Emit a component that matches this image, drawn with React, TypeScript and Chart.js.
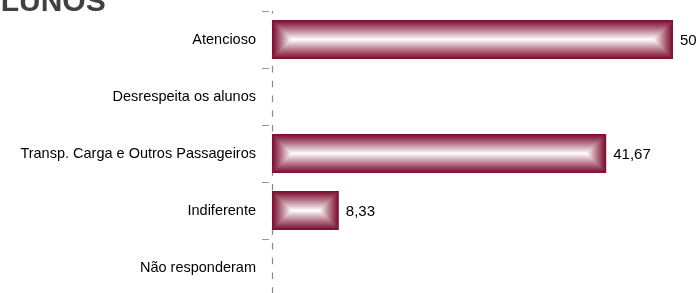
import React, { useEffect, useRef } from "react";
import { Chart, registerables } from "chart.js";

Chart.register(...registerables);

const categories = [
  "Atencioso",
  "Desrespeita os alunos",
  "Transp. Carga e Outros Passageiros",
  "Indiferente",
  "Não responderam",
];
const values = [50, 0, 41.67, 8.33, 0];
const titleText = "ALUNOS";

const DARK = [126, 16, 50];
const LIGHT = [255, 255, 255];

function mix(t: number) {
  const c = DARK.map((d, i) => Math.round(d + (LIGHT[i] - d) * t));
  return `rgb(${c[0]},${c[1]},${c[2]})`;
}

const framePlugin = {
  id: "frameGradient",
  beforeDatasetsDraw(chart: any) {
    const ctx = chart.ctx;
    const area = chart.chartArea;
    const x = Math.round(area.left) + 0.5;
    ctx.save();
    ctx.strokeStyle = "#888";
    ctx.lineWidth = 1.2;
    ctx.setLineDash([6.5, 8.25]);
    ctx.lineDashOffset = 4;
    ctx.beginPath();
    ctx.moveTo(x, area.top);
    ctx.lineTo(x, area.bottom);
    ctx.stroke();
    ctx.restore();
  },
  afterDatasetsDraw(chart: any) {
    const ctx = chart.ctx;
    const meta = chart.getDatasetMeta(0);
    ctx.save();
    meta.data.forEach((el: any, i: number) => {
      const v = values[i];
      if (!v) return;
      const { x, y, base, height } = el.getProps(["x", "y", "base", "height"], true);
      const left = Math.min(base, x);
      const right = Math.max(base, x);
      const top = y - height / 2;
      const w = right - left;
      const h = height;
      const steps = Math.max(2, Math.ceil(Math.min(w, h) / 2));
      for (let s = 0; s < steps; s++) {
        const t = s / (steps - 1);
        ctx.fillStyle = mix(Math.pow(t, 1.1));
        const ww = w - 2 * s;
        const hh = h - 2 * s;
        if (ww <= 0 || hh <= 0) break;
        ctx.fillRect(left + s, top + s, ww, hh);
      }
      ctx.fillStyle = "#000";
      ctx.font = "15px 'Liberation Sans', Arial, sans-serif";
      ctx.textBaseline = "middle";
      ctx.textAlign = "left";
      ctx.fillText(String(v).replace(".", ","), right + 7, y + 1);
    });
    ctx.restore();
  },
  afterDraw(chart: any) {
    const ctx = chart.ctx;
    ctx.save();
    ctx.fillStyle = "#404040";
    ctx.font = "bold 30px 'Liberation Sans', Arial, sans-serif";
    ctx.textBaseline = "alphabetic";
    ctx.textAlign = "left";
    ctx.fillText(titleText, -21, 11);
    ctx.restore();
  },
};

export default function App() {
  const ref = useRef<HTMLCanvasElement | null>(null);
  useEffect(() => {
    if (!ref.current) return;
    const chart = new Chart(ref.current, {
      type: "bar",
      data: {
        labels: categories,
        datasets: [
          {
            data: values,
            backgroundColor: "rgba(0,0,0,0)",
            borderWidth: 0,
            barPercentage: 0.684,
            categoryPercentage: 1,
          },
        ],
      },
      options: {
        indexAxis: "y",
        animation: false,
        responsive: false,
        layout: { padding: { top: 11, right: 26, bottom: 0, left: 0 } },
        plugins: {
          legend: { display: false },
          tooltip: { enabled: false },
          title: { display: false },
        },
        scales: {
          x: { display: false, min: 0, max: 50 },
          y: {
            type: "category",
            offset: true,
            grid: {
              offset: true,
              drawOnChartArea: false,
              drawTicks: true,
              tickLength: 10,
              color: "#999",
              tickBorderDash: [7, 3],
            },
            border: { display: false },
            ticks: {
              color: "#000",
              font: { family: "'Liberation Sans', Arial, sans-serif", size: 14.5 },
              padding: 6,
              autoSkip: false,
            },
            afterFit(scale: any) {
              scale.width = 272;
              scale.paddingTop = 0;
              scale.paddingBottom = 0;
            },
          },
        },
      },
      plugins: [framePlugin],
    } as any);
    return () => chart.destroy();
  }, []);
  return (
    <div style={{ position: "fixed", left: 0, top: 0, width: 699, height: 296, background: "#fff" }}>
      <canvas ref={ref} width={699} height={296} style={{ display: "block" }} />
    </div>
  );
}
